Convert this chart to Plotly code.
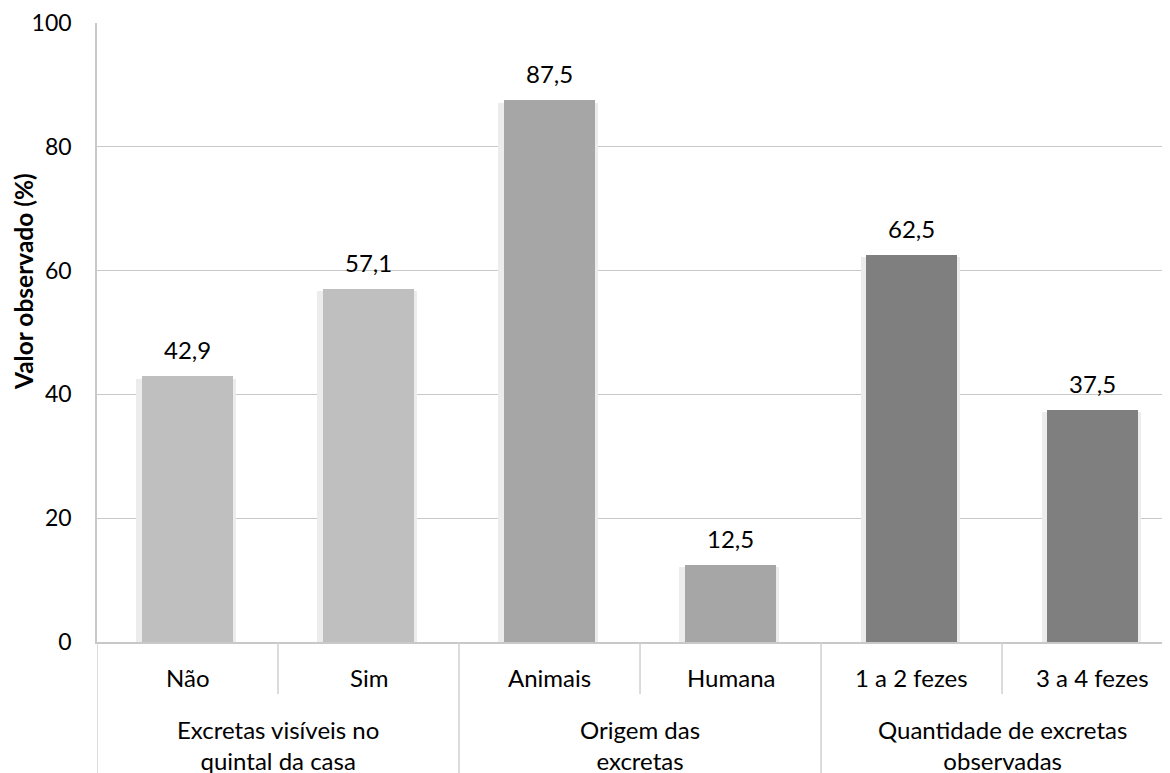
import plotly.graph_objects as go

categories = ["Não", "Sim", "Animais", "Humana", "1 a 2 fezes", "3 a 4 fezes"]
values = [42.9, 57.1, 87.5, 12.5, 62.5, 37.5]
group_of_category = [0, 0, 1, 1, 2, 2]
groups = ["Excretas visíveis no<br>quintal da casa", "Origem das<br>excretas",
          "Quantidade de excretas<br>observadas"]
group_colors = ["#bfbfbf", "#a6a6a6", "#7f7f7f"]
y_ticks = [0, 20, 40, 60, 80, 100]
y_title = "Valor observado (%)"

FONT = "Lato"
FS = 24
x_idx = list(range(len(categories)))
bar_colors = [group_colors[g] for g in group_of_category]

fig = go.Figure()
# soft shadow behind bars
fig.add_trace(go.Bar(x=x_idx, y=[v - 0.35 for v in values], width=0.55, offset=-0.282,
                     marker=dict(color="#ececec", line=dict(width=0)), hoverinfo="skip",
                     showlegend=False))
fig.add_trace(go.Bar(x=x_idx, y=values, width=0.505, marker=dict(color=bar_colors, line=dict(width=0)),
                     showlegend=False))

for i, v in zip(x_idx, values):
    fig.add_annotation(x=i, y=v, xref="x", yref="y", text=f"{v:.1f}".replace(".", ","),
                       showarrow=False, yanchor="bottom", yshift=10,
                       font=dict(family=FONT, size=FS, color="#000000"))

H = 619.0
def py(pix):
    return (642 - pix) / H

for i, c in zip(x_idx, categories):
    fig.add_annotation(x=i, y=py(677), xref="x", yref="paper", text=c, showarrow=False,
                       yanchor="middle", font=dict(family=FONT, size=FS, color="#000000"))

n_groups = len(groups)
for g in range(n_groups):
    members = [i for i, gg in enumerate(group_of_category) if gg == g]
    center = (members[0] + members[-1]) / 2
    fig.add_annotation(x=center, y=py(745), xref="x", yref="paper", text=groups[g], showarrow=False,
                       yanchor="middle", font=dict(family=FONT, size=FS, color="#000000"))
    left = members[0] - 0.5
    fig.add_shape(type="line", x0=left, x1=left, y0=0, y1=py(790), xref="x", yref="paper",
                  line=dict(color="#d0d0d0", width=1.5))
    for m in members[:-1]:
        fig.add_shape(type="line", x0=m + 0.5, x1=m + 0.5, y0=0, y1=py(694), xref="x", yref="paper",
                      line=dict(color="#d0d0d0", width=1.5))

# y-axis title
fig.add_annotation(x=0, xref="paper", xshift=-74, y=py(282), yref="paper", text=f"<b>{y_title}</b>",
                   textangle=-90, showarrow=False, xanchor="center", yanchor="middle",
                   font=dict(family=FONT, size=24.5, color="#000000"))

fig.update_layout(
    width=1170, height=773,
    margin=dict(l=89, r=0, t=15, b=139),
    plot_bgcolor="white", paper_bgcolor="white",
    barmode="overlay", bargap=0,
    font=dict(family=FONT, size=FS, color="#000000"),
    xaxis=dict(range=[-0.5, 5.472], showticklabels=False, showgrid=False, zeroline=False,
               showline=True, linecolor="#c8c8c8", linewidth=1.5, ticks=""),
    yaxis=dict(range=[0, 100], tickvals=y_ticks, showgrid=True, gridcolor="#c8c8c8", gridwidth=1,
               zeroline=False, showline=True, linecolor="#c8c8c8", linewidth=1.5,
               ticks="", ticklabelstandoff=19,
               tickfont=dict(family=FONT, size=23, color="#000000")),
)

fig.write_html("out.html")
